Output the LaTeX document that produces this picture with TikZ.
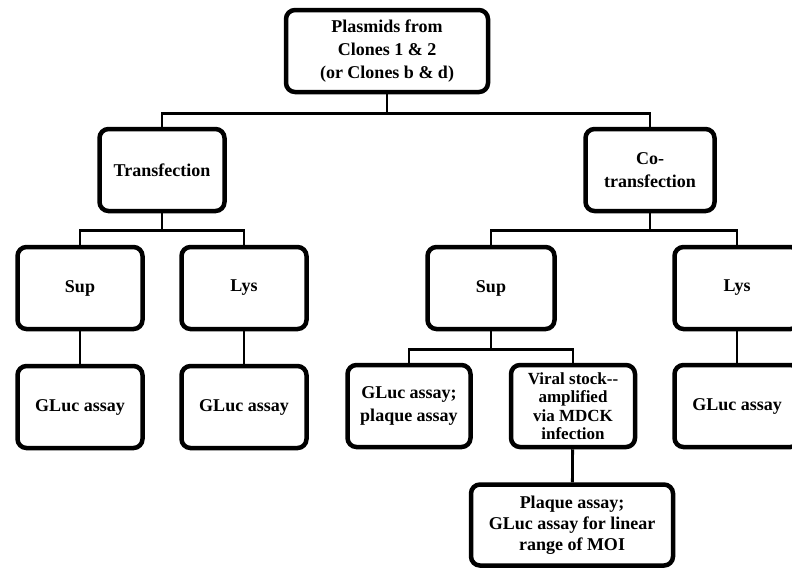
\documentclass[tikz,border=0pt]{standalone}
\usepackage{fontspec}
\setmainfont{Liberation Serif}
\begin{document}
\begin{tikzpicture}[x=1pt,y=-1pt,
        box/.style = {draw,line width=4.5pt,rounded corners=9pt,fill=white,
            align=center,inner sep=1pt,minimum width=125pt,minimum height=82pt,
            font=\fontsize{18}{23}\selectfont\bfseries},
        link/.style = {line width=2.8pt}]
    \useasboundingbox (0,0) rectangle (792,571);
    \node [box,minimum width=202pt] (root) at (387,51) {Plasmids from\\Clones 1 \& 2\\(or Clones b \& d)};
    \node [box] (trans) at (162,170) {Transfection};
    \node [box,minimum width=129pt] (cotrans) at (650,170) {Co-\\transfection};
    \node [box] (sup1) at (80,288) {Sup};
    \node [box] (lys1) at (244,288) {Lys};
    \node [box,minimum width=127pt] (sup2) at (491,288) {Sup};
    \node [box] (lys2) at (737,288) {Lys};
    \node [box] (gluc1) at (80,407) {GLuc assay};
    \node [box] (gluc2) at (244,407) {GLuc assay};
    \node [box,minimum width=123pt] (glucplq) at (409,406) {GLuc assay;\\plaque assay};
    \node [box,minimum width=124pt,font=\fontsize{17}{18.5}\selectfont\bfseries] (viral) at (573,406)
        {Viral stock{-}{-}\\amplified\\via MDCK\\infection};
    \node [box] (gluc3) at (737,406) {GLuc assay};
    \node [box,minimum width=202pt,minimum height=81pt,font=\fontsize{18}{21}\selectfont\bfseries] (plaque) at (572,525)
        {Plaque assay;\\GLuc assay for linear\\range of MOI};
    % branches
    \draw [link] (root.south) -- ++(0,19) coordinate (rootbar);
    \draw [link] (rootbar) -| (trans.north);
    \draw [link] (rootbar) -| (cotrans.north);
    \draw [link] (trans.south) -- ++(0,17) coordinate (transbar);
    \draw [link] (transbar) -| (sup1.north);
    \draw [link] (transbar) -| (lys1.north);
    \draw [link] (cotrans.south) -- ++(0,17) coordinate (cotransbar);
    \draw [link] (cotransbar) -| (sup2.north);
    \draw [link] (cotransbar) -| (lys2.north);
    \draw [link] (sup1) -- (gluc1);
    \draw [link] (lys1) -- (gluc2);
    \draw [link] (sup2.south) -- ++(0,18) coordinate (supbar);
    \draw [link] (supbar) -| (glucplq.north);
    \draw [link] (supbar) -| (viral.north);
    \draw [link] (lys2) -- (gluc3);
    \draw [link] (viral) -- (plaque);
\end{tikzpicture}
\end{document}
